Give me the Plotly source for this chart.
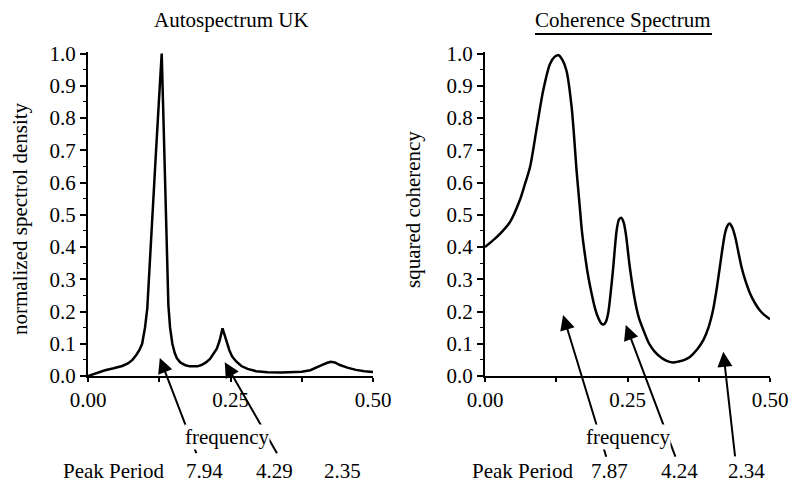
import plotly.graph_objects as go
from plotly.subplots import make_subplots

# ---------------- data ----------------
AUTO_FREQ = [0.000, 0.015, 0.030, 0.045, 0.060, 0.070, 0.078, 0.085, 0.090, 0.095,
             0.100, 0.104, 0.1075, 0.113, 0.1187, 0.124, 0.1293, 0.1316, 0.1339, 0.1365,
             0.1391, 0.141, 0.144, 0.148, 0.152, 0.156, 0.162, 0.170, 0.178, 0.185,
             0.192, 0.199, 0.207, 0.214, 0.220, 0.226, 0.231, 0.236, 0.240, 0.244,
             0.248, 0.253, 0.260, 0.269, 0.280, 0.295, 0.315, 0.340, 0.360, 0.375,
             0.390, 0.402, 0.412, 0.420, 0.426, 0.433, 0.442, 0.455, 0.470, 0.485, 0.500]
AUTO_DENSITY = [0.000, 0.009, 0.018, 0.024, 0.031, 0.039, 0.050, 0.066, 0.080, 0.100,
                0.150, 0.210, 0.330, 0.500, 0.677, 0.840, 1.000, 0.850, 0.677, 0.500,
                0.330, 0.220, 0.150, 0.100, 0.072, 0.055, 0.042, 0.034, 0.030, 0.029,
                0.030, 0.034, 0.042, 0.053, 0.068, 0.085, 0.110, 0.148, 0.125, 0.100,
                0.080, 0.060, 0.045, 0.031, 0.022, 0.015, 0.012, 0.011, 0.011, 0.013,
                0.018, 0.026, 0.035, 0.041, 0.044, 0.042, 0.034, 0.026, 0.019, 0.015, 0.012]

COH_FREQ = [0.000, 0.0175, 0.030, 0.044, 0.061, 0.070, 0.079, 0.091, 0.102, 0.114,
            0.122, 0.129, 0.136, 0.143, 0.152, 0.161, 0.166, 0.170, 0.175, 0.181,
            0.187, 0.193, 0.199, 0.204, 0.208, 0.212, 0.216, 0.220, 0.225, 0.231,
            0.235, 0.239, 0.243, 0.247, 0.254, 0.263, 0.270, 0.278, 0.288, 0.298,
            0.310, 0.320, 0.330, 0.340, 0.350, 0.360, 0.372, 0.383, 0.392, 0.400,
            0.406, 0.412, 0.417, 0.421, 0.425, 0.429, 0.434, 0.439, 0.445, 0.450,
            0.457, 0.465, 0.473, 0.482, 0.491, 0.500]
COH_SQUARED = [0.400, 0.426, 0.448, 0.478, 0.545, 0.595, 0.648, 0.772, 0.885, 0.968,
               0.990, 0.995, 0.980, 0.947, 0.834, 0.630, 0.530, 0.450, 0.380, 0.310,
               0.256, 0.210, 0.179, 0.163, 0.160, 0.168, 0.194, 0.250, 0.338, 0.452,
               0.485, 0.491, 0.478, 0.442, 0.338, 0.235, 0.180, 0.142, 0.100, 0.075,
               0.056, 0.046, 0.042, 0.045, 0.050, 0.060, 0.082, 0.111, 0.150, 0.204,
               0.265, 0.338, 0.400, 0.442, 0.465, 0.473, 0.460, 0.431, 0.380, 0.338,
               0.295, 0.256, 0.228, 0.204, 0.188, 0.176]

X_TICKS = [0.0, 0.25, 0.5]
X_TICK_LABELS = ["0.00", "0.25", "0.50"]

AUTO_PERIODS = ["7.94", "4.29", "2.35"]
COH_PERIODS = ["7.87", "4.24", "2.34"]

# ---------------- figure ----------------
FONT = "Liberation Serif, Times New Roman, serif"
W, H = 789, 485

fig = make_subplots(rows=1, cols=2)

fig.add_trace(go.Scatter(x=AUTO_FREQ, y=AUTO_DENSITY, mode="lines",
                         line=dict(color="black", width=2.5), showlegend=False,
                         hoverinfo="skip"), row=1, col=1)
fig.add_trace(go.Scatter(x=COH_FREQ, y=COH_SQUARED, mode="lines",
                         line=dict(color="black", width=2.5, shape="spline", smoothing=0.8),
                         showlegend=False, hoverinfo="skip"), row=1, col=2)


def px_x(p):
    return p / W


def px_y(p):
    return 1 - p / H


xaxis_common = dict(range=[0, 0.5], tickvals=X_TICKS, ticktext=X_TICK_LABELS,
                    automargin=False,
                    showgrid=False, zeroline=False, showline=True, linecolor="black",
                    linewidth=2, ticks="outside", ticklen=4, tickwidth=1.5, tickcolor="black",
                    minor=dict(tickvals=[0.125, 0.375], ticks="outside", ticklen=4,
                               tickwidth=1.5, tickcolor="black"),
                    tickfont=dict(family=FONT, size=21, color="black"), fixedrange=True)
yaxis_common = dict(range=[0, 1.005], tickvals=[i / 10 for i in range(11)], tickformat=".1f",
                    automargin=False,
                    showgrid=False, zeroline=False, showline=True, linecolor="black",
                    linewidth=2, ticks="outside", ticklen=6, tickwidth=1.5, tickcolor="black",
                    minor=dict(tickvals=[i / 20 for i in range(1, 20, 2)], ticks="outside",
                               ticklen=3, tickwidth=1.2, tickcolor="black"),
                    tickfont=dict(family=FONT, size=21, color="black"), fixedrange=True)

fig.update_layout(
    width=W, height=H, margin=dict(l=0, r=0, t=0, b=0, pad=0), autosize=False,
    paper_bgcolor="white", plot_bgcolor="white",
    font=dict(family=FONT, size=21, color="black"),
    xaxis=dict(domain=[px_x(88), px_x(373)], **xaxis_common),
    xaxis2=dict(domain=[px_x(485), px_x(770)], **xaxis_common),
    yaxis=dict(domain=[px_y(376), px_y(52)], **yaxis_common),
    yaxis2=dict(domain=[px_y(376), px_y(52)], **yaxis_common),
)

ann = []
# titles
ann.append(dict(text="Autospectrum UK", x=px_x(231), y=px_y(20), xref="paper", yref="paper",
                showarrow=False, xanchor="center", yanchor="middle"))
ann.append(dict(text="Coherence Spectrum", x=px_x(623), y=px_y(20), xref="paper", yref="paper",
                showarrow=False, xanchor="center", yanchor="middle"))
# y-axis titles
ann.append(dict(text="normalized spectrol density", x=px_x(20), y=px_y(219), xref="paper",
                yref="paper", showarrow=False, textangle=-90, xanchor="center", yanchor="middle"))
ann.append(dict(text="squared coherency", x=px_x(413), y=px_y(210), xref="paper",
                yref="paper", showarrow=False, textangle=-90, xanchor="center", yanchor="middle"))

# arrows: (head_f, head_v, tail_f, tail_v)
left_arrows = [(0.126, 0.056, 0.191, -0.244), (0.240, 0.043, 0.333, -0.244),
               (0.440, -0.003, 0.447, -0.253)]
right_arrows = [(0.137, 0.189, 0.2135, -0.255), (0.247, 0.158, 0.335, -0.255),
                (0.418, 0.075, 0.439, -0.254)]
for axs, arrows in (("", left_arrows), ("2", right_arrows)):
    for hx, hy, tx, ty in arrows:
        ann.append(dict(text="", x=hx, y=hy, ax=tx, ay=ty, xref="x" + axs, yref="y" + axs,
                        axref="x" + axs, ayref="y" + axs, showarrow=True, arrowhead=2,
                        arrowsize=1.5, arrowwidth=2, arrowcolor="black", standoff=0))

# "frequency" labels (white box breaks arrow lines)
for cx in (227, 628):
    ann.append(dict(text="frequency", x=px_x(cx), y=px_y(437), xref="paper", yref="paper",
                    showarrow=False, xanchor="center", yanchor="middle", bgcolor="white",
                    borderpad=0))

# Peak period rows
ROW_Y = px_y(471)
ann.append(dict(text="Peak Period", x=px_x(114), y=ROW_Y, xref="paper", yref="paper",
                showarrow=False, xanchor="center", yanchor="middle"))
ann.append(dict(text="Peak Period", x=px_x(522), y=ROW_Y, xref="paper", yref="paper",
                showarrow=False, xanchor="center", yanchor="middle"))
for txt, fx in zip(AUTO_PERIODS, [0.205, 0.328, 0.446]):
    ann.append(dict(text=txt, x=fx, y=ROW_Y, xref="x", yref="paper",
                    showarrow=False, xanchor="center", yanchor="middle"))
for txt, fx in zip(COH_PERIODS, [0.219, 0.342, 0.459]):
    ann.append(dict(text=txt, x=fx, y=ROW_Y, xref="x2", yref="paper",
                    showarrow=False, xanchor="center", yanchor="middle"))

fig.update_layout(annotations=ann)

# underline of the right title
fig.add_shape(type="line", xref="paper", yref="paper", x0=px_x(535), x1=px_x(712),
              y0=px_y(34), y1=px_y(34), line=dict(color="black", width=2))

fig.write_html("out.html", config={"displayModeBar": False},
               post_script="document.body.style.margin='0';document.body.style.overflow='hidden';")
